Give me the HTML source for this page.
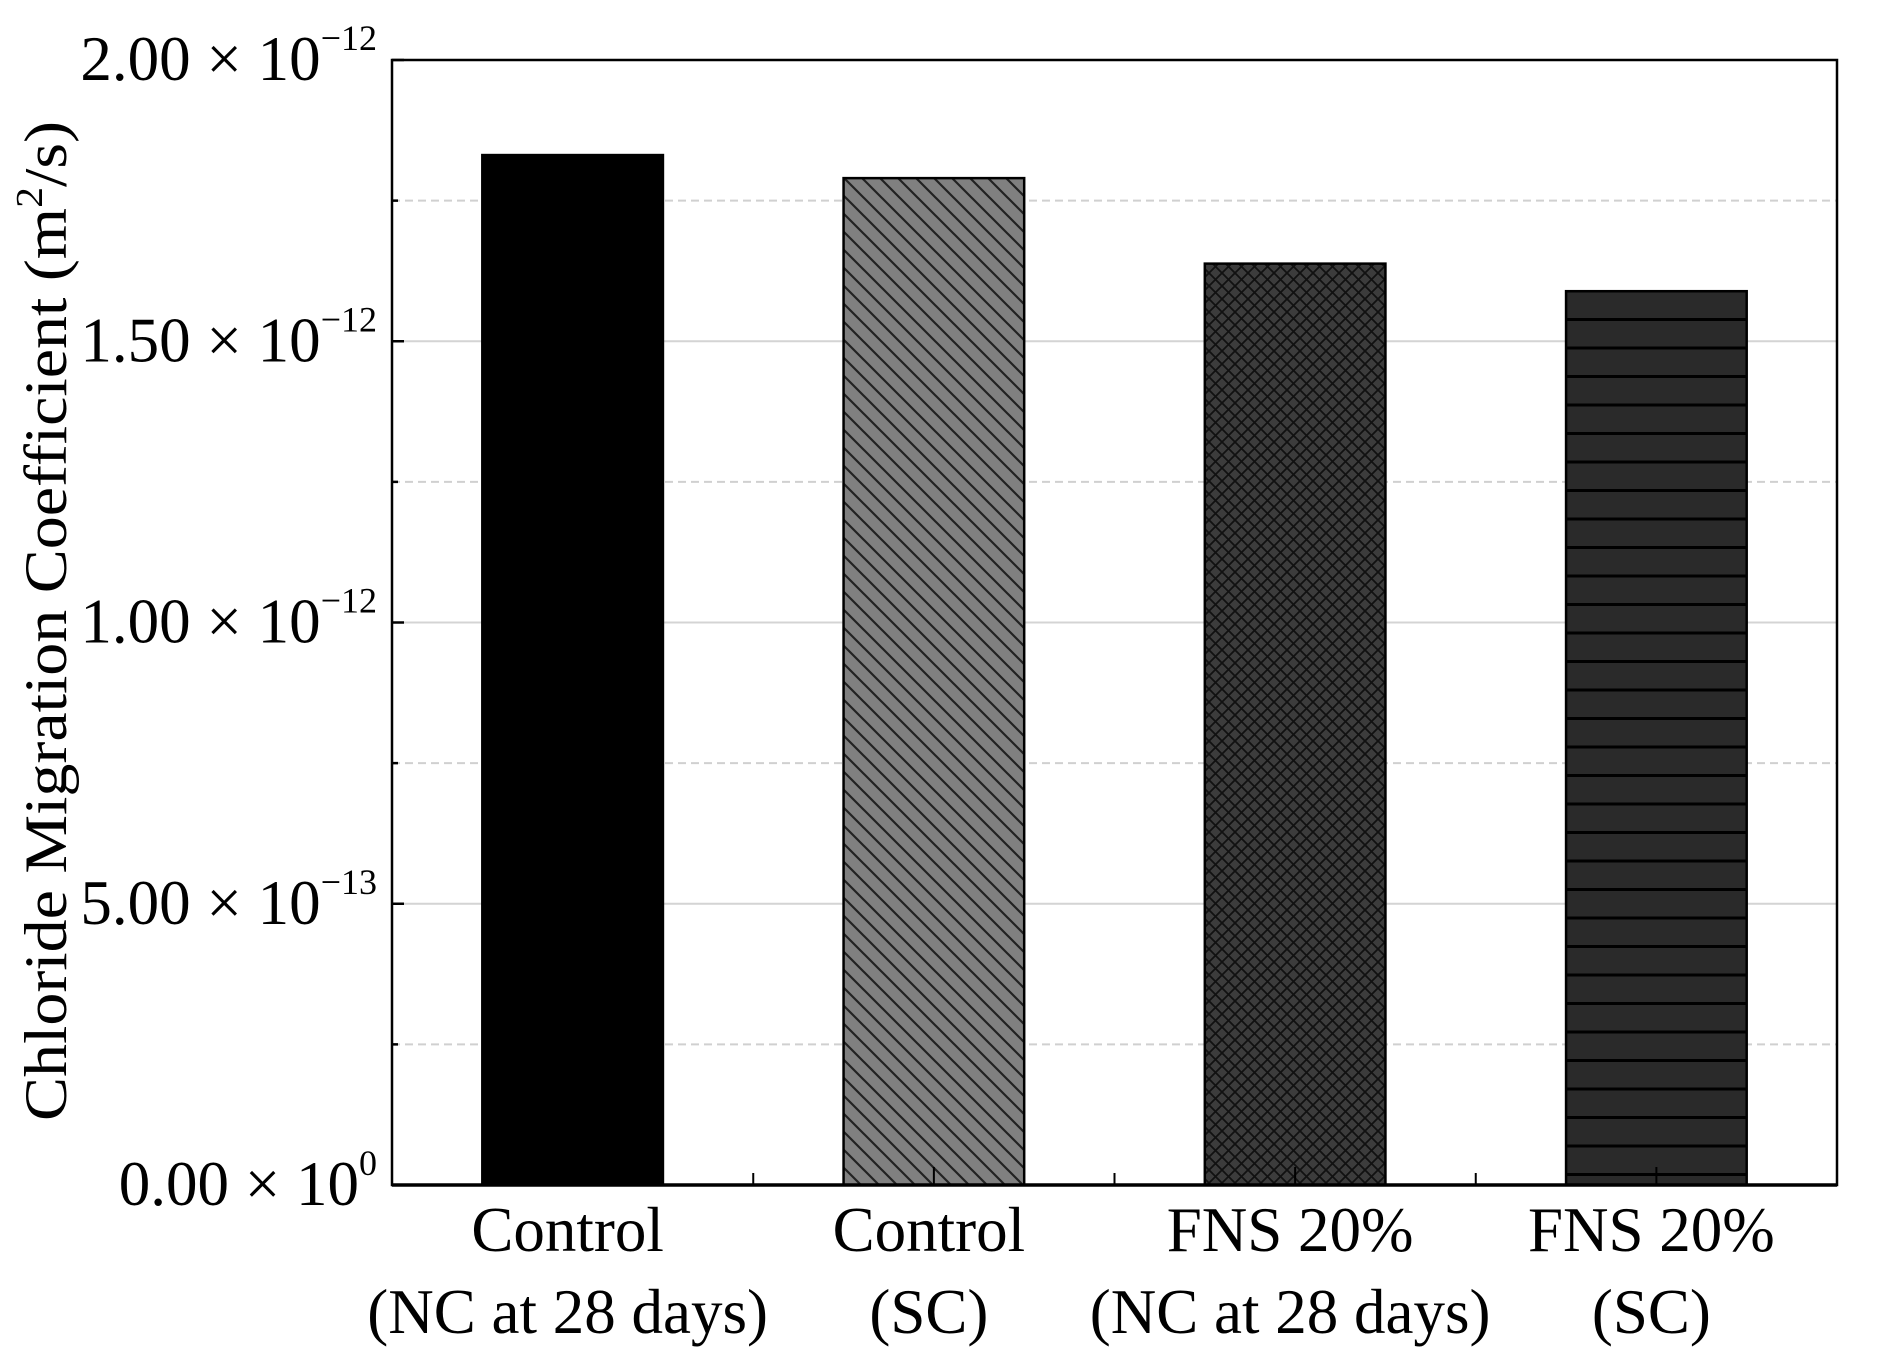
<!DOCTYPE html>
<html><head><meta charset="utf-8"><style>
html,body{margin:0;padding:0;background:#fff;}
svg{display:block;font-family:"Liberation Serif",serif;}
</style></head><body>
<svg id="chart" width="1886" height="1371" viewBox="0 0 1886 1371" xmlns="http://www.w3.org/2000/svg">
<defs>
<pattern id="diag" patternUnits="userSpaceOnUse" width="18" height="18">
<rect width="18" height="18" fill="#808080"/>
<path d="M-4.5,-4.5 L22.5,22.5 M-4.5,13.5 L4.5,22.5 M13.5,-4.5 L22.5,4.5" stroke="#222" stroke-width="2.2"/>
</pattern>
<pattern id="cross" patternUnits="userSpaceOnUse" width="13" height="13">
<rect width="13" height="13" fill="#3c3c3c"/>
<path d="M0,0 L13,13 M13,0 L0,13" stroke="#111" stroke-width="1.8"/>
</pattern>
<pattern id="horiz" patternUnits="userSpaceOnUse" width="20" height="28.5" y="1173">
<rect width="20" height="28.5" fill="#2a2a2a"/>
<rect y="0" width="20" height="3" fill="#000"/>
</pattern>
</defs>
<g id="grid"></g>
<g id="bars"></g>
<g id="axes"></g>
<text transform="translate(66,621) rotate(-90)" text-anchor="middle" font-size="60" textLength="1000" lengthAdjust="spacingAndGlyphs">Chloride Migration Coefficient (m<tspan font-size="38" dy="-24">2</tspan><tspan dy="24">/s)</tspan></text>
</svg>
<script>
const categories = [["Control","(NC at 28 days)"],["Control","(SC)"],["FNS 20%","(NC at 28 days)"],["FNS 20%","(SC)"]];
const values = [1.831, 1.790, 1.638, 1.589]; // ×10^-12 m²/s
const fills = ["#000","url(#diag)","url(#cross)","url(#horiz)"];
const majorTicks = [0, 0.5, 1.0, 1.5, 2.0];
const minorTicks = [0.25, 0.75, 1.25, 1.75];
const tickMantissa = ["0.00","5.00","1.00","1.50","2.00"];
const tickExp = ["0","\u221213","\u221212","\u221212","\u221212"];

const NS="http://www.w3.org/2000/svg";
const L=392,R=1837,T=60,B=1185;
const yMax=2.0;
const y=v=>B-(v/yMax)*(B-T);
const band=(R-L)/categories.length;
const xc=i=>L+band*(i+0.5);
const bw=band*0.5;
function mk(tag,parent,attrs){const e=document.createElementNS(NS,tag);for(const k in attrs)e.setAttribute(k,attrs[k]);parent.appendChild(e);return e;}
const grid=document.getElementById('grid'),bars=document.getElementById('bars'),axes=document.getElementById('axes');

majorTicks.forEach(v=>{if(v>0&&v<yMax){const l=mk('line',grid,{x1:L,x2:R,y1:y(v),y2:y(v),stroke:'#d4d4d4','stroke-width':2});

}});
minorTicks.forEach(v=>{const l=mk('line',grid,{x1:L,x2:R,y1:y(v),y2:y(v),stroke:'#d0d0d0','stroke-width':2,'stroke-dasharray':'8 5'});

});

values.forEach((v,i)=>{const r=mk('rect',bars,{x:xc(i)-bw/2,y:y(v),width:bw,height:B-y(v),fill:fills[i],stroke:'#000','stroke-width':2.5});

});

const frame=mk('rect',axes,{x:L,y:T,width:R-L,height:B-T,fill:'none',stroke:'#000','stroke-width':2.5});


mk('line',axes,{x1:L,x2:R,y1:B,y2:B,stroke:'#000','stroke-width':3.5});

majorTicks.forEach((v,i)=>{mk('line',axes,{x1:L,x2:L+12,y1:y(v),y2:y(v),stroke:'#000','stroke-width':2.5});
const t=mk('text',axes,{x:377,y:y(v)+20,'text-anchor':'end','font-size':63});


const m=mk('tspan',t,{});m.textContent=tickMantissa[i]+" \u00d7 10";
const s=mk('tspan',t,{'font-size':36,dy:-30});s.textContent=tickExp[i];});
minorTicks.forEach(v=>mk('line',axes,{x1:L,x2:L+6,y1:y(v),y2:y(v),stroke:'#000','stroke-width':2.5}));

for(let i=0;i<=categories.length;i++){mk('line',axes,{x1:L+band*i,x2:L+band*i,y1:B,y2:B-12,stroke:'#000','stroke-width':2});}
categories.forEach((c,i)=>{mk('line',axes,{x1:xc(i),x2:xc(i),y1:B,y2:B-18,stroke:'#000','stroke-width':2});
c.forEach((line,j)=>{const t=mk('text',axes,{x:xc(i)-5,y:j?1333:1251,'text-anchor':'middle','font-size':63});


t.textContent=line;});});
</script>
</body></html>
